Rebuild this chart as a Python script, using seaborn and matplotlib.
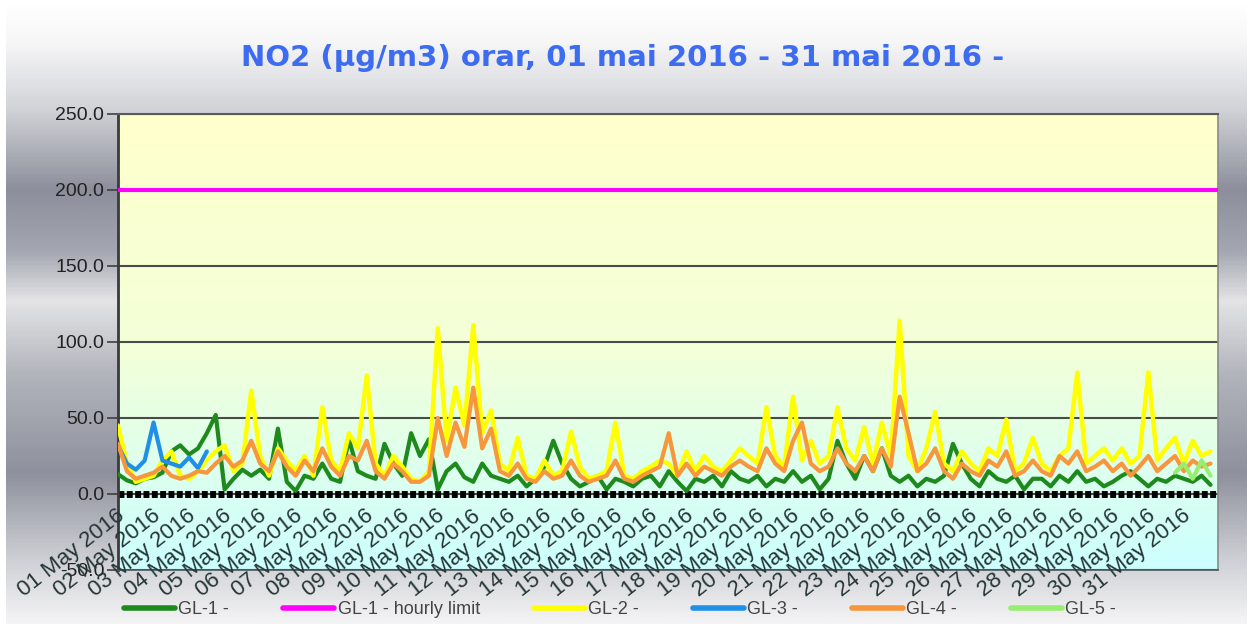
import numpy as np
import pandas as pd
import seaborn as sns
import matplotlib.pyplot as plt
from matplotlib.colors import LinearSegmentedColormap

# values read every 6 hours (00, 06, 12, 18) for each day of May 2016
gl1 = [13, 9, 7, 10,   11, 14, 28, 32,   26, 30, 40, 52,   3, 10, 16, 12,
       16, 10, 43, 8,  2, 12, 10, 20,    10, 8, 36, 15,    12, 10, 33, 20,
       12, 40, 25, 36, 3, 15, 20, 11,    8, 20, 12, 10,    8, 12, 5, 10,
       18, 35, 20, 10, 5, 8, 12, 3,      10, 8, 5, 10,     12, 5, 15, 8,
       2, 10, 8, 12,   5, 15, 10, 8,     12, 5, 10, 8,     15, 8, 12, 3,
       10, 35, 20, 10, 25, 15, 30, 12,   8, 12, 5, 10,     8, 12, 33, 20,
       10, 5, 15, 10,  8, 12, 3, 10,     10, 5, 12, 8,     15, 8, 10, 5,
       8, 12, 15, 10,  5, 10, 8, 12,     10, 8, 12, 6]
gl2 = [45, 20, 8, 10,  12, 22, 28, 12,   10, 15, 22, 28,   32, 15, 20, 68,
       25, 12, 30, 22, 15, 25, 12, 57,   22, 15, 40, 30,   78, 20, 12, 25,
       18, 10, 8, 15,  109, 35, 70, 45,  111, 40, 55, 20,  15, 37, 12, 10,
       22, 12, 15, 41, 18, 10, 12, 15,   47, 12, 10, 15,   18, 22, 20, 12,
       28, 15, 25, 18, 15, 22, 30, 25,   20, 57, 25, 18,   64, 22, 35, 20,
       25, 57, 30, 22, 44, 20, 47, 25,   114, 25, 15, 30,  54, 20, 15, 28,
       20, 15, 30, 25, 49, 15, 20, 37,   20, 15, 25, 30,   80, 20, 25, 30,
       22, 30, 20, 25, 80, 22, 30, 37,   20, 35, 25, 28]
gl3 = [32, 20, 16, 22, 47, 22, 20, 18, 24, 17, 28]
gl4 = [33, 15, 10, 12, 14, 18, 12, 10,   12, 15, 14, 20,   25, 18, 22, 35,
       20, 15, 28, 18, 12, 22, 15, 30,   18, 12, 25, 22,   35, 15, 10, 20,
       15, 8, 8, 12,   50, 25, 47, 31,   70, 30, 43, 15,   12, 20, 10, 8,
       15, 10, 12, 22, 12, 8, 10, 12,    22, 10, 8, 12,    15, 18, 40, 12,
       20, 12, 18, 15, 12, 18, 22, 18,   15, 30, 20, 15,   35, 47, 20, 15,
       18, 30, 20, 15, 25, 15, 30, 18,   64, 40, 15, 20,   30, 15, 10, 20,
       15, 12, 22, 18, 28, 12, 15, 22,   15, 12, 25, 20,   28, 15, 18, 22,
       15, 20, 12, 18, 25, 15, 20, 25,   15, 22, 18, 20]
gl5 = [14, 20, 10, 22, 12]
hourly_limit = 200.0

day_labels = [f"{d:02d} May 2016" for d in range(1, 32)]
hours = np.arange(0, 744, 6)
gl3_hours = hours[:len(gl3)]
gl5_hours = hours[-len(gl5):]

sns.set_style("white")
plt.rcParams['font.family'] = ['Liberation Sans', 'DejaVu Sans']

fig = plt.figure(figsize=(12.53, 6.28), dpi=100, facecolor='white')

# metallic grey background of the chart (first axes, so it is drawn first)
bg_cmap = LinearSegmentedColormap.from_list("bg", [
    (0.0, '#ffffff'), (0.06, '#f7f7f8'), (0.17, '#d2d3d8'), (0.30, '#8c8f9b'),
    (0.40, '#a4a7b1'), (0.48, '#e4e4e6'), (0.60, '#b2b4bc'), (0.76, '#8e919d'),
    (0.90, '#cfd0d5'), (1.0, '#f4f4f5')])
bg = fig.add_axes([0.005, 0.006, 0.99, 0.99])
bg.patch.set_visible(False)
bg.imshow(np.linspace(0, 1, 400).reshape(-1, 1), cmap=bg_cmap, aspect='auto',
          interpolation='bilinear', extent=[0, 1, 0, 1], origin='upper')
bg.set_xlim(0, 1)
bg.set_ylim(0, 1)
bg.set_axis_off()

ax = fig.add_axes([0.0942, 0.0924, 0.8778, 0.7261])
area_cmap = LinearSegmentedColormap.from_list("area", ['#ffffcc', '#f4ffd8', '#ccffff'])
ax.imshow(np.linspace(0, 1, 256).reshape(-1, 1), aspect='auto', cmap=area_cmap,
          extent=[0, 743, -50, 250], zorder=0)

sns.lineplot(x=hours, y=gl1, color='#1e8a1e', lw=3, ax=ax, label='GL-1 -', zorder=3)
sns.lineplot(x=[0, 743], y=[hourly_limit, hourly_limit], color='#ff00ff', lw=3,
             ax=ax, label='GL-1 - hourly limit', zorder=3)
sns.lineplot(x=hours, y=gl2, color='#ffff00', lw=3.2, ax=ax, label='GL-2 -', zorder=4)
sns.lineplot(x=gl3_hours, y=gl3, color='#1e90e8', lw=3, ax=ax, label='GL-3 -', zorder=5)
sns.lineplot(x=hours, y=gl4, color='#f7963c', lw=3, ax=ax, label='GL-4 -', zorder=6)
sns.lineplot(x=gl5_hours, y=gl5, color='#98ee70', lw=3, ax=ax, label='GL-5 -', zorder=7)

ax.axhline(0, color='black', lw=5, ls=(0, (0.85, 0.35)), zorder=2.5)

ax.set_xlim(0, 743)
ax.set_ylim(-50, 250)
ax.set_yticks(np.arange(-50, 251, 50))
ax.set_yticklabels([f"{v:.1f}" for v in np.arange(-50, 251, 50)])
ax.set_xticks([])
ax.set_axisbelow(True)
ax.yaxis.grid(True, color='#4a4a4a', lw=1.5)
ax.tick_params(axis='y', length=8, width=1.2, color='#404040', labelsize=14,
               labelcolor='#222222', pad=2, left=True)
ax.set_xlabel('')
ax.set_ylabel('')
for side, col, w in [('left', '#3a3a3a', 2), ('top', '#5a5a5a', 1.5),
                     ('right', '#8a8a8a', 1.2), ('bottom', '#4a5a5a', 1.2)]:
    ax.spines[side].set_color(col)
    ax.spines[side].set_linewidth(w)

for i, lab in enumerate(day_labels):
    ax.text(i * 24 + 3, -13, lab, rotation=38, ha='right', va='center',
            rotation_mode='anchor', fontsize=16, color='#263636', clip_on=False, zorder=8)

fig.text(0.497, 0.907, "NO2 (µg/m3) orar, 01 mai 2016 - 31 mai 2016 -",
         ha='center', va='center', fontsize=21, fontweight='bold',
         color='#3d6cf0', family='DejaVu Sans')

leg = ax.legend(loc='center', bbox_to_anchor=(0.495, 0.029), bbox_transform=fig.transFigure,
                ncol=6, frameon=False, fontsize=13, handlelength=2.8,
                handletextpad=0.2, columnspacing=3.0)
for t in leg.get_texts():
    t.set_color('#444444')
for h in leg.get_lines():
    h.set_linewidth(4)

fig.savefig('out.png', dpi=100)
